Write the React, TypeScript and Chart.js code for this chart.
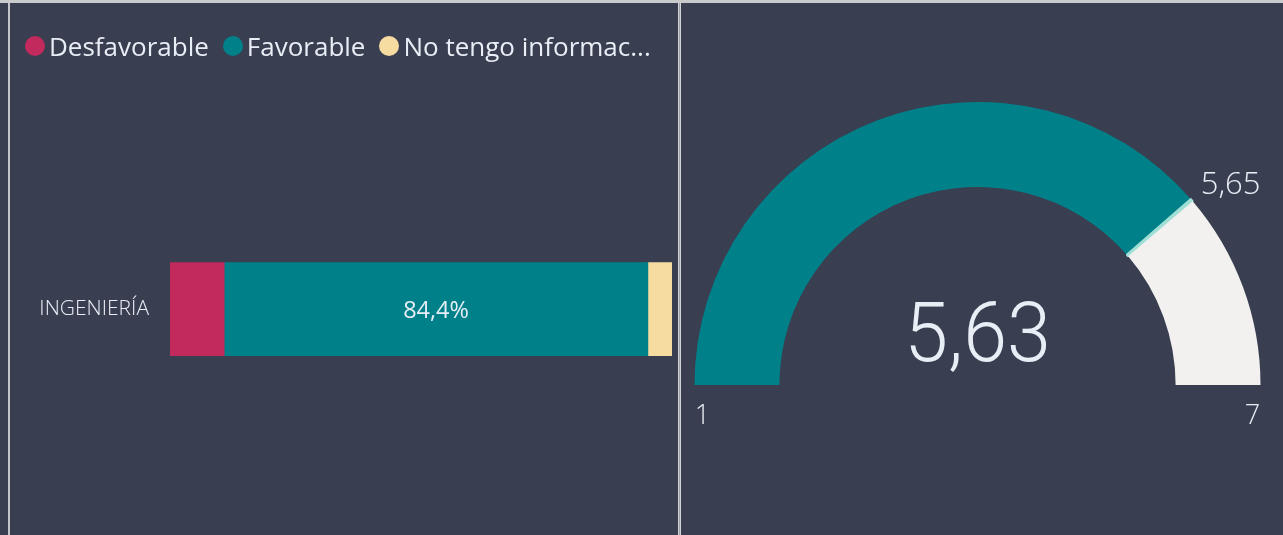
import React, { useEffect, useRef } from "react";
import { Chart, registerables } from "chart.js";

Chart.register(...registerables);

// ---- Data ----
const categories = ["INGENIERÍA"];
const seriesLabels = ["Desfavorable", "Favorable", "No tengo información"];
const desfavorable = [10.8];
const favorable = [84.4];
const noTengo = [4.8];
const seriesColors = ["#c2295d", "#00818a", "#f6dca1"];

const gaugeMin = 1;
const gaugeMax = 7;
const gaugeValue = 5.63;
const gaugeTarget = 5.65;
const gaugeColors = ["#00818a", "#9fdfd6", "#f2f1ef"];

// ---- Style ----
const BG = "#393e50";
const TEXT = "#e8eef6";
const FONT = "'Open Sans', 'Noto Sans', sans-serif";

const fmt = (v: number, d: number) => v.toFixed(d).replace(".", ",");
const legendText = (s: string) => (s.length > 17 ? s.slice(0, 17) + "..." : s);

function BarPanel() {
  const ref = useRef<HTMLCanvasElement>(null);
  useEffect(() => {
    if (!ref.current) return;
    const segLabels = {
      id: "segLabels",
      afterDatasetsDraw(chart: any) {
        const ctx = chart.ctx;
        chart.data.datasets.forEach((ds: any, i: number) => {
          const meta = chart.getDatasetMeta(i);
          meta.data.forEach((el: any, j: number) => {
            const v = ds.data[j] as number;
            const w = Math.abs(el.x - el.base);
            const text = fmt(v, 1) + "%";
            ctx.save();
            ctx.font = `23.5px ${FONT}`;
            const tw = ctx.measureText(text).width;
            if (tw + 20 < w) {
              ctx.fillStyle = TEXT;
              ctx.textAlign = "center";
              ctx.textBaseline = "middle";
              ctx.fillText(text, (el.x + el.base) / 2, el.y + 2);
            }
            ctx.restore();
          });
        });
      },
    };
    const series = [desfavorable, favorable, noTengo];
    const chart = new Chart(ref.current, {
      type: "bar",
      data: {
        labels: categories,
        datasets: series.map((d, i) => ({
          label: seriesLabels[i],
          data: d,
          backgroundColor: seriesColors[i],
          borderWidth: 0,
          barThickness: 93,
        })),
      },
      options: {
        indexAxis: "y",
        responsive: false,
        animation: false,
        devicePixelRatio: 1,
        layout: { padding: { left: 0, right: 6, top: 114, bottom: 9 } },
        plugins: { legend: { display: false }, tooltip: { enabled: false } },
        scales: {
          x: { stacked: true, min: 0, max: 100, display: false },
          y: {
            stacked: true,
            grid: { display: false, drawTicks: false },
            border: { display: false },
            ticks: { color: TEXT, font: { family: FONT, size: 21, weight: "300" }, padding: 21 },
            afterFit: (s: any) => {
              s.width = 160;
            },
          },
        },
      } as any,
      plugins: [segLabels],
    });
    return () => chart.destroy();
  }, []);
  return (
    <canvas
      ref={ref}
      width={668}
      height={532}
      style={{ position: "absolute", left: 10, top: 3, width: 668, height: 532, display: "block" }}
    />
  );
}

function GaugePanel() {
  const ref = useRef<HTMLCanvasElement>(null);
  useEffect(() => {
    if (!ref.current) return;
    const gaugeText = {
      id: "gaugeText",
      afterDraw(chart: any) {
        const ctx = chart.ctx;
        const el = chart.getDatasetMeta(0).data[0];
        if (!el) return;
        const cx = el.x;
        const cy = el.y;
        const R = el.outerRadius;
        ctx.save();
        ctx.fillStyle = TEXT;
        ctx.textBaseline = "alphabetic";
        // central value
        ctx.save();
        ctx.translate(cx, cy - 24);
        ctx.scale(0.94, 1);
        ctx.font = `300 84px Roboto, ${FONT}`;
        ctx.textAlign = "center";
        ctx.fillText(fmt(gaugeValue, 2), 0, 0);
        ctx.restore();
        // min / max
        ctx.font = `300 27px ${FONT}`;
        ctx.textAlign = "center";
        ctx.fillText(String(gaugeMin), cx - R + 8, cy + 39);
        ctx.fillText(String(gaugeMax), cx + R - 8, cy + 39);
        // target label
        const a = Math.PI * (1 - (gaugeTarget - gaugeMin) / (gaugeMax - gaugeMin));
        const px = cx + R * Math.cos(a);
        const py = cy - R * Math.sin(a);
        ctx.font = `300 31px ${FONT}`;
        ctx.textAlign = "left";
        ctx.fillText(fmt(gaugeTarget, 2), px + 8, py - 7);
        ctx.restore();
      },
    };
    const chart = new Chart(ref.current, {
      type: "doughnut",
      data: {
        labels: ["Valor", "Objetivo", "Restante"],
        datasets: [
          {
            data: [gaugeValue - gaugeMin, gaugeTarget - gaugeValue, gaugeMax - gaugeTarget],
            backgroundColor: gaugeColors,
            borderColor: gaugeColors,
            borderWidth: [0, 2, 0],
          },
        ],
      },
      options: {
        responsive: false,
        animation: false,
        devicePixelRatio: 1,
        rotation: -90,
        circumference: 180,
        cutout: "70%",
        layout: { padding: { left: 12, right: 21, top: 98, bottom: 149 } },
        plugins: { legend: { display: false }, tooltip: { enabled: false } },
      } as any,
      plugins: [gaugeText],
    });
    return () => chart.destroy();
  }, []);
  return (
    <canvas
      ref={ref}
      width={602}
      height={532}
      style={{ position: "absolute", left: 681, top: 3, width: 602, height: 532, display: "block" }}
    />
  );
}

export default function App() {
  return (
    <div
      style={{
        position: "fixed",
        left: 0,
        top: 0,
        width: 1283,
        height: 535,
        background: BG,
        overflow: "hidden",
        fontFamily: FONT,
      }}
    >
      <BarPanel />
      <div
        style={{
          position: "absolute",
          left: 25,
          top: 31,
          height: 30,
          display: "flex",
          alignItems: "center",
          whiteSpace: "nowrap",
          color: TEXT,
          fontSize: 26,
          lineHeight: "30px",
        }}
      >
        {seriesLabels.map((l, i) => (
          <div key={l} style={{ display: "flex", alignItems: "center", marginRight: 14 }}>
            <span
              style={{
                display: "inline-block",
                width: 20,
                height: 20,
                borderRadius: "50%",
                background: seriesColors[i],
                marginRight: 4,
              }}
            />
            <span>{legendText(l)}</span>
          </div>
        ))}
      </div>
      <GaugePanel />
      <div style={{ position: "absolute", left: 0, top: 0, width: 1283, height: 3, background: "#c9cacc" }} />
      <div style={{ position: "absolute", left: 8, top: 3, width: 2, height: 532, background: "#c4c5c8" }} />
      <div style={{ position: "absolute", left: 678, top: 3, width: 1, height: 532, background: "#d2d3d5" }} />
      <div style={{ position: "absolute", left: 679, top: 3, width: 1, height: 532, background: "#9ea0a6" }} />
      <div style={{ position: "absolute", left: 680, top: 3, width: 1, height: 532, background: "#d2d3d5" }} />
    </div>
  );
}
